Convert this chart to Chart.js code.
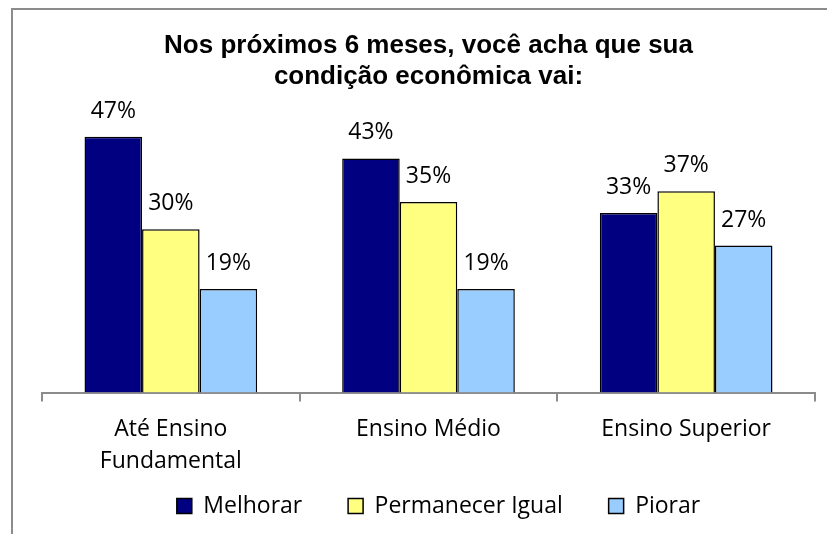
<!DOCTYPE html>
<html>
<head>
<meta charset="utf-8">
<script src="https://cdn.jsdelivr.net/npm/chart.js@4"></script>
<style>
  html, body { margin: 0; padding: 0; background: #fff; }
  #wrap { position: relative; width: 827px; height: 534px; overflow: hidden; }
  #frame {
    position: absolute; left: 11px; top: 8px; width: 840px; height: 560px;
    border: 2px solid #8c8c8c; pointer-events: none;
  }
  canvas { position: absolute; left: 0; top: 0; }
</style>
</head>
<body>
<div id="wrap">
  <canvas id="chart" width="827" height="534"></canvas>
  <div id="frame"></div>
</div>
<script>
const categories = [["Até Ensino", "Fundamental"], "Ensino Médio", "Ensino Superior"];
const seriesNames = ["Melhorar", "Permanecer Igual", "Piorar"];
const melhorar = [47, 43, 33];
const permanecer = [30, 35, 37];
const piorar = [19, 19, 27];
const colors = ["#000080", "#FFFF80", "#99CCFF"];

const labelFont = "'Open Sans', sans-serif";

// draws the "47%" labels above each bar
const valueLabels = {
  id: "valueLabels",
  afterDatasetsDraw(chart) {
    const ctx = chart.ctx;
    ctx.save();
    ctx.font = "23px " + labelFont;
    ctx.fillStyle = "#000";
    ctx.textAlign = "center";
    ctx.textBaseline = "alphabetic";
    chart.data.datasets.forEach((ds, i) => {
      chart.getDatasetMeta(i).data.forEach((bar, j) => {
        ctx.fillText(ds.data[j] + "%", bar.x, bar.y - 19);
      });
    });
    ctx.restore();
  },
};

// nudge the legend row a bit to the right, like the original
const legendShift = {
  id: "legendShift",
  afterLayout(chart) {
    chart.legend.left += 10;
    chart.legend.right += 10;
  },
};

new Chart(document.getElementById("chart"), {
  type: "bar",
  data: {
    labels: categories,
    datasets: [melhorar, permanecer, piorar].map((d, i) => ({
      label: seriesNames[i],
      data: d,
      backgroundColor: colors[i],
      borderColor: "#000",
      borderWidth: 1.5,
      borderSkipped: "bottom",
      categoryPercentage: 0.67,
      barPercentage: 1,
    })),
  },
  options: {
    responsive: false,
    animation: false,
    layout: { padding: { left: 42, right: 12, top: 0, bottom: 6.5 } },
    plugins: {
      title: {
        display: true,
        text: ["Nos próximos 6 meses, você acha que sua", "condição econômica vai:"],
        font: { family: "'Liberation Sans', Arial, sans-serif", size: 26, weight: "bold", lineHeight: 1.2 },
        color: "#000",
        padding: { top: 30, bottom: 28 },
      },
      legend: {
        position: "bottom",
        labels: {
          font: { family: labelFont, size: 23 },
          color: "#000",
          boxWidth: 15,
          boxHeight: 15,
          padding: 16,
          generateLabels(chart) {
            const n = chart.data.datasets.length;
            return chart.data.datasets.map((ds, i) => ({
              // trailing spaces widen the gap between legend items
              text: i < n - 1 ? ds.label + "     " : ds.label,
              fillStyle: ds.backgroundColor,
              strokeStyle: "#000",
              lineWidth: 1.5,
              datasetIndex: i,
            }));
          },
        },
      },
      tooltip: { enabled: false },
    },
    scales: {
      x: {
        afterFit(scale) {
          scale.height = 86;
        },
        grid: {
          display: true,
          drawOnChartArea: false,
          offset: true,
          tickLength: 9,
          color: "#8c8c8c",
          lineWidth: 2,
        },
        border: { display: true, color: "#8c8c8c", width: 2 },
        ticks: {
          font: { family: labelFont, size: 23, lineHeight: 1.4 },
          color: "#000",
          maxRotation: 0,
          padding: 12,
        },
      },
      y: {
        display: false,
        min: 0,
        max: 50,
      },
    },
  },
  plugins: [valueLabels, legendShift],
});
</script>
</body>
</html>
